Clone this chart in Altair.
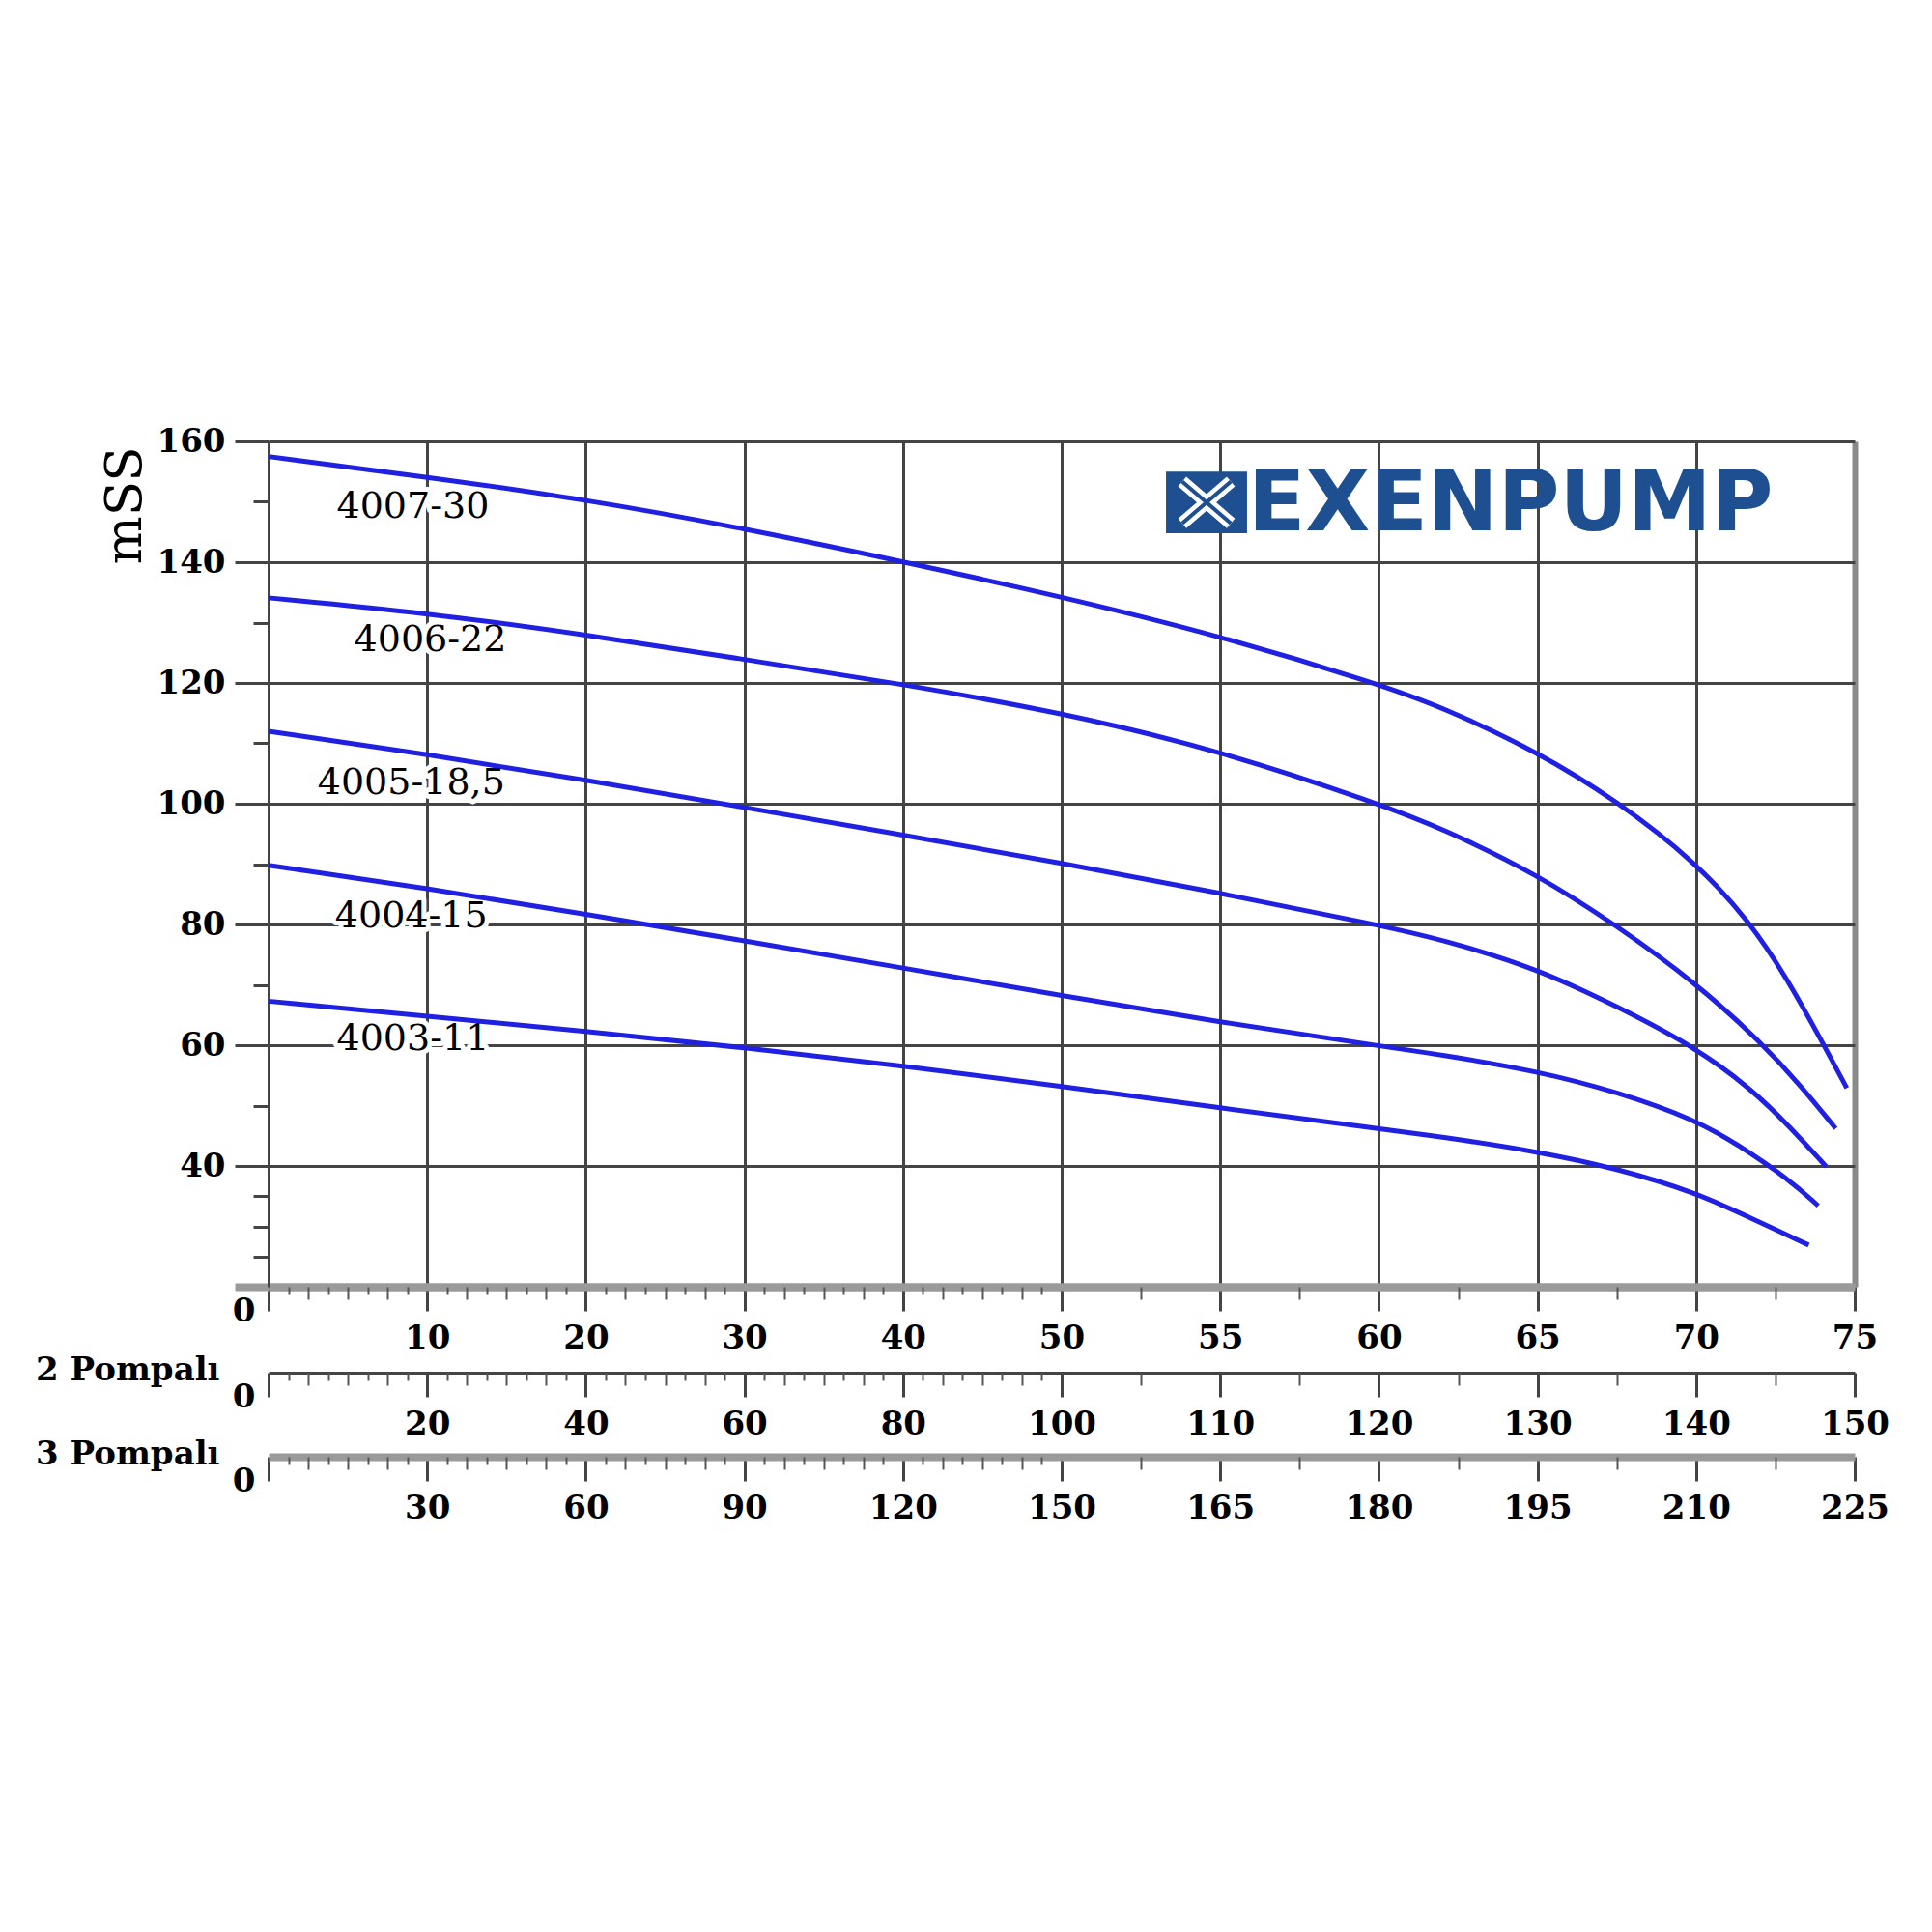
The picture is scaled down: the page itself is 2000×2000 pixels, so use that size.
import altair as alt
import pandas as pd

# ---- data (x = position on the uneven flow grid, 0..10 ; y = head mSS) ----
series_names = ["4007-30", "4006-22", "4005-18,5", "4004-15", "4003-11"]

idx_4007_30 = [0, 1, 2, 3, 4, 5, 6, 7, 7.4, 8, 8.5, 9, 9.34, 9.57, 9.79, 9.95]
head_4007_30 = [157.5, 154.1, 150.4, 145.6, 140.1, 134.3, 127.8, 119.8, 116.0, 108.6, 100.5, 90.3, 80.4, 71.2, 60.8, 52.9]

idx_4006_22 = [0, 1, 2, 3, 4, 5, 6, 7, 7.4, 8, 8.5, 9, 9.41, 9.67, 9.88]
head_4006_22 = [134.1, 131.6, 128.0, 123.9, 119.8, 115.1, 108.8, 100.0, 95.9, 88.3, 79.8, 70.3, 60.5, 53.0, 46.2]

idx_4005_185 = [0, 1, 2, 3, 4, 5, 6, 7, 7.4, 8, 8.52, 9, 9.36, 9.59, 9.82]
head_4005_185 = [112.0, 108.2, 103.9, 99.4, 94.8, 90.2, 85.2, 79.9, 77.5, 72.7, 66.2, 59.6, 52.5, 46.5, 39.9]

idx_4004_15 = [0, 1, 2, 3, 4, 5, 6, 7, 7.4, 8, 8.5, 9, 9.26, 9.59, 9.77]
head_4004_15 = [89.8, 86.0, 81.7, 77.3, 72.8, 68.2, 63.8, 59.9, 58.4, 55.7, 52.3, 47.6, 43.6, 37.7, 33.4]

idx_4003_11 = [0, 1, 2, 3, 4, 5, 6, 7, 7.4, 8, 8.5, 9, 9.36, 9.71]
head_4003_11 = [67.3, 64.8, 62.3, 59.6, 56.6, 53.2, 49.6, 46.2, 44.8, 42.4, 39.6, 35.6, 31.2, 26.9]

label_idx = [0.91, 1.02, 0.90, 0.90, 0.91]
label_head = [149.1, 127.0, 103.4, 81.3, 61.0]

flow_1_labels = ["0", "10", "20", "30", "40", "50", "55", "60", "65", "70", "75"]
flow_2_labels = ["0", "20", "40", "60", "80", "100", "110", "120", "130", "140", "150"]
flow_3_labels = ["0", "30", "60", "90", "120", "150", "165", "180", "195", "210", "225"]
y_major = [20, 40, 60, 80, 100, 120, 140, 160]
y_minor = [25, 30, 35, 50, 70, 90, 110, 130, 150]
x_minor = [0.125, 0.25, 0.375, 0.5, 0.625, 0.75, 0.875,
           1.125, 1.25, 1.375, 1.5, 1.625, 1.75, 1.875,
           2.125, 2.25, 2.375, 2.5, 2.625, 2.75, 2.875,
           3.125, 3.25, 3.375, 3.5, 3.625, 3.75, 3.875,
           4.125, 4.25, 4.375, 4.5, 4.625, 4.75, 4.875,
           5.5, 6.5, 7.5, 8.5, 9.5]

logo_text = "EXENPUMP"
logo_box_x = [5.658, 6.169]
logo_box_y = [155.0, 144.8]
logo_text_pos = [6.175, 149.4]

# ---- tables ----
rows = []
for name, xs_, ys_ in zip(series_names,
                          [idx_4007_30, idx_4006_22, idx_4005_185, idx_4004_15, idx_4003_11],
                          [head_4007_30, head_4006_22, head_4005_185, head_4004_15, head_4003_11]):
    for a, b in zip(xs_, ys_):
        rows.append({"series": name, "idx": a, "head": b})
curves = pd.DataFrame(rows)
labels_df = pd.DataFrame({"name": series_names, "lx": label_idx, "ly": label_head})
logo_box = pd.DataFrame({"x1": [logo_box_x[0]], "x2": [logo_box_x[1]], "y1": [logo_box_y[0]], "y2": [logo_box_y[1]]})
# the two diagonals of the logo's square (inset inside the box)
bx0, bx1 = logo_box_x
by0, by1 = logo_box_y
ix = (bx1 - bx0) * 0.2
iy = (by0 - by1) * 0.16
logo_diag = pd.DataFrame({
    "x1": [bx0 + ix, bx0 + ix], "x2": [bx1 - ix, bx1 - ix],
    "y1": [by0 - iy, by1 + iy], "y2": [by1 + iy, by0 - iy],
})
logo_df = pd.DataFrame({"t": [logo_text], "x": [logo_text_pos[0]], "y": [logo_text_pos[1]]})

# ---- styles ----
BLUE = "#2020e2"
GRID = "#444444"
BAND = "#9a9a9a"
LOGO = "#1d4f91"
SERIF = "DejaVu Serif"

xs = alt.Scale(domain=[0, 10], nice=False, zero=False)
ys = alt.Scale(domain=[20, 160], nice=False, zero=False)


def lbl_expr(labels):
    arr = "[" + ",".join("'" + s + "'" for s in labels) + "]"
    return arr + "[round(datum.value)]"


def is0(a, b):
    return {"condition": {"test": "datum.value == 0", "value": a}, "value": b}


def flow_axis(labels, offset, domain_color, domain_width, title=None, grid=False):
    kw = dict(
        values=list(range(11)), labelExpr=lbl_expr(labels), orient="bottom", offset=offset,
        grid=grid, domainColor=domain_color, domainWidth=domain_width,
        tickColor=GRID, tickWidth=3, tickSize=25,
        labelFont=SERIF, labelFontWeight="bold", labelFontSize=34, labelColor="black",
        labelAlign=is0("right", "center"), labelOffset=is0(-14, 0), labelPadding=is0(-17, 11),
        labelBaseline="top", labelFlush=False, labelOverlap=False, zindex=0,
    )
    if grid:
        kw.update(
            gridColor={"condition": {"test": "datum.value == 10", "value": "#8a8a8a"}, "value": GRID},
            gridWidth={"condition": {"test": "datum.value == 10", "value": 6}, "value": 3},
        )
    if title:
        kw.update(title=title, titleX=-51, titleY=-3, titleAlign="right", titleBaseline="middle",
                  titleAngle=0, titleFont=SERIF, titleFontSize=34, titleFontWeight="bold", titleColor="black")
    else:
        kw.update(title=None)
    return alt.Axis(**kw)


def minor_axis(offset):
    return alt.Axis(values=x_minor, orient="bottom", offset=offset, labels=False, domain=False, grid=False,
                    title=None, tickColor="#555555", tickWidth=2,
                    tickSize={"condition": {"test": "(datum.value * 4) % 1 == 0", "value": 13}, "value": 8},
                    zindex=0)


y_main_axis = alt.Axis(
    values=y_major, labelExpr="datum.value == 20 ? '' : datum.label", orient="left",
    grid=True,
    gridColor={"condition": {"test": "datum.value == 20", "value": BAND}, "value": GRID},
    gridWidth={"condition": {"test": "datum.value == 20", "value": 8}, "value": 3},
    domainColor=GRID, domainWidth=3, tickSize=35,
    tickColor={"condition": {"test": "datum.value == 20", "value": BAND}, "value": GRID},
    tickWidth={"condition": {"test": "datum.value == 20", "value": 8}, "value": 3},
    labelFont=SERIF, labelFontWeight="bold", labelFontSize=34, labelColor="black", labelPadding=10,
    title="mSS", titleX=-149, titleY=66, titleAngle=270, titleAlign="center", titleBaseline="middle",
    titleFont=SERIF, titleFontSize=53, titleFontWeight="normal", titleColor="black", zindex=0,
)
y_minor_axis = alt.Axis(values=y_minor, orient="left", labels=False, domain=False, grid=False, title=None,
                        tickSize=16, tickColor=GRID, tickWidth=3, zindex=0)


def carrier(xaxis, yaxis=None):
    return alt.Chart(curves).mark_point(opacity=0).encode(
        x=alt.X("idx:Q", scale=xs, axis=xaxis),
        y=alt.Y("head:Q", scale=ys, axis=yaxis),
    )


lines = alt.Chart(curves).mark_line(interpolate="basis", color=BLUE, strokeWidth=5).encode(
    x=alt.X("idx:Q", scale=xs, axis=flow_axis(flow_1_labels, 0, BAND, 8, grid=True)),
    y=alt.Y("head:Q", scale=ys, axis=y_main_axis),
    detail="series:N",
)

halo = alt.Chart(labels_df).mark_text(font=SERIF, fontSize=38, color="white", stroke="white",
                                      strokeWidth=10, strokeJoin="round").encode(
    x=alt.X("lx:Q", scale=xs, axis=None), y=alt.Y("ly:Q", scale=ys, axis=None), text="name:N")
texts = alt.Chart(labels_df).mark_text(font=SERIF, fontSize=38, color="black").encode(
    x=alt.X("lx:Q", scale=xs, axis=None), y=alt.Y("ly:Q", scale=ys, axis=None), text="name:N")

box = alt.Chart(logo_box).mark_rect(color=LOGO).encode(
    x=alt.X("x1:Q", scale=xs, axis=None), x2="x2:Q",
    y=alt.Y("y1:Q", scale=ys, axis=None), y2="y2:Q")
diag_w = alt.Chart(logo_diag).mark_rule(color="white", strokeWidth=13).encode(
    x=alt.X("x1:Q", scale=xs, axis=None), x2="x2:Q",
    y=alt.Y("y1:Q", scale=ys, axis=None), y2="y2:Q")
diag_b = alt.Chart(logo_diag).mark_rule(color=LOGO, strokeWidth=4).encode(
    x=alt.X("x1:Q", scale=xs, axis=None), x2="x2:Q",
    y=alt.Y("y1:Q", scale=ys, axis=None), y2="y2:Q")
logo = alt.Chart(logo_df).mark_text(font="DejaVu Sans", fontWeight="bold", fontSize=87, color=LOGO,
                                    align="left", baseline="middle").encode(
    x=alt.X("x:Q", scale=xs, axis=None), y=alt.Y("y:Q", scale=ys, axis=None), text="t:N")

chart = alt.layer(
    halo,
    lines,
    carrier(minor_axis(0)),
    carrier(flow_axis(flow_2_labels, 89, GRID, 3, title="2 Pompalı")),
    carrier(minor_axis(89)),
    carrier(flow_axis(flow_3_labels, 176, BAND, 8, title="3 Pompalı")),
    carrier(minor_axis(176)),
    carrier(None, y_minor_axis),
    texts, box, diag_w, diag_b, logo,
).resolve_axis(x="independent", y="independent").properties(
    width=1642, height=875,
    autosize=alt.AutoSizeParams(type="none"),
    padding={"left": 270, "top": 449, "right": 70, "bottom": 420},
    background="white",
).configure_view(stroke=None)

chart.save("out.html", embed_options={"renderer": "svg", "actions": False})
